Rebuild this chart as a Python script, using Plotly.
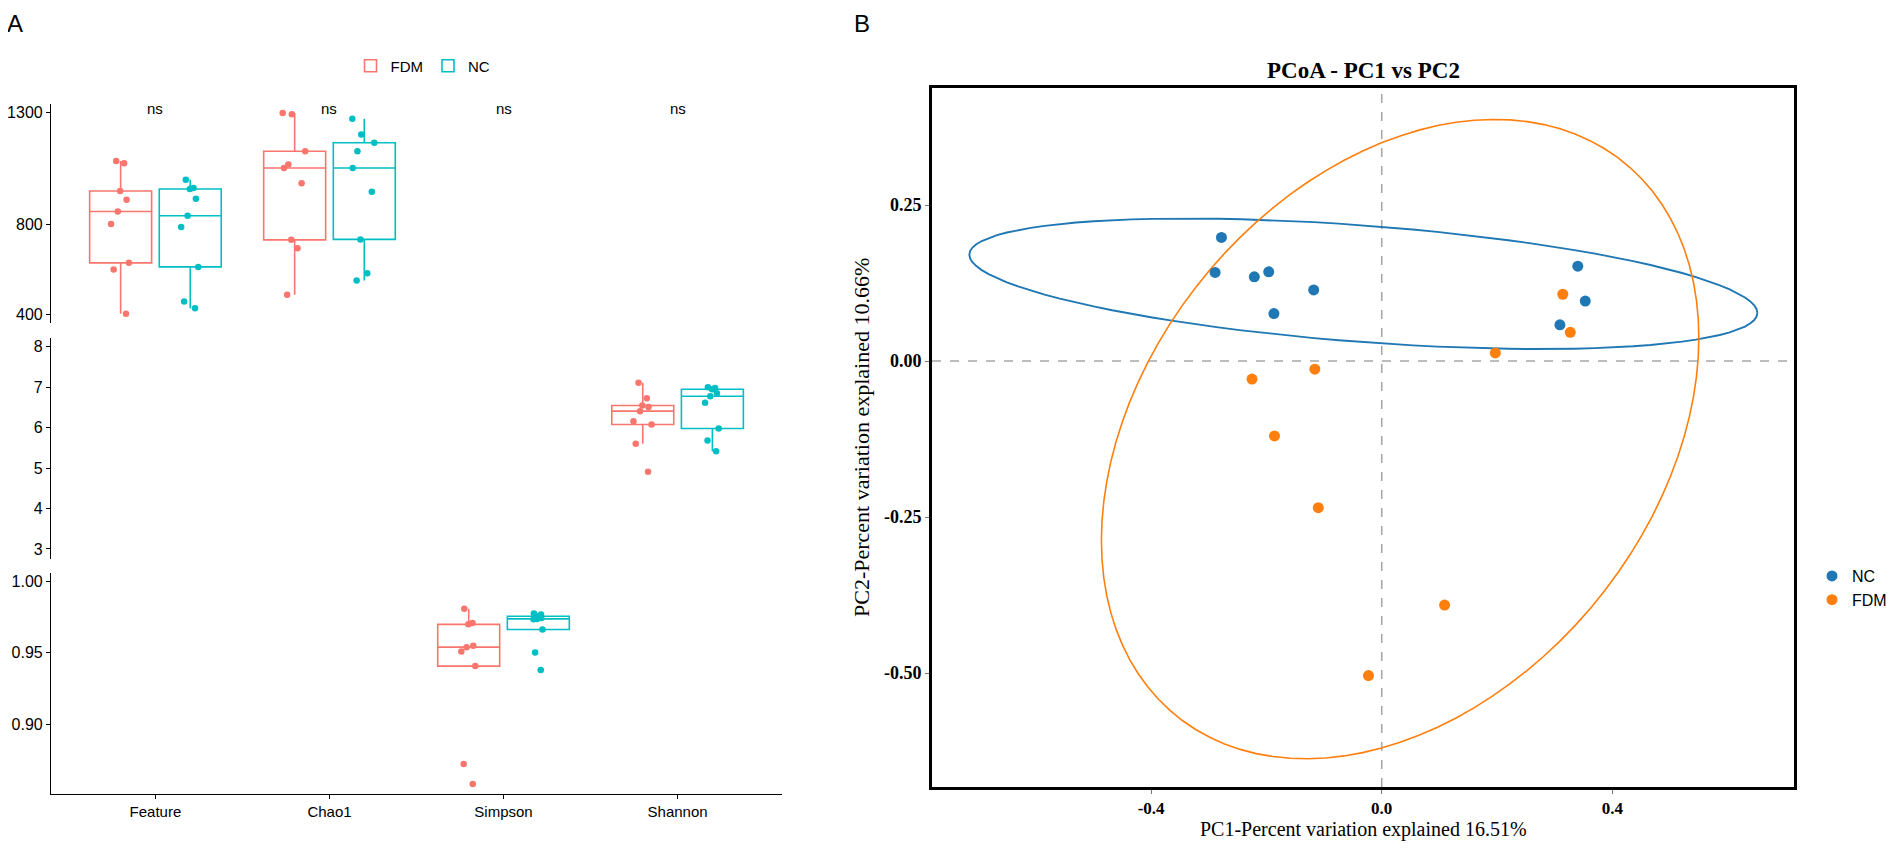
import numpy as np
import plotly.graph_objects as go

# the page body keeps its default 8px margin, so the figure is drawn 8px in
FW, FH = 1886, 835
OFF = 8
SANS = 'Liberation Sans, Arial, sans-serif'
SERIF = 'Liberation Serif, Times New Roman, serif'


def fx(px):
    return (px - OFF) / FW


def fy(py):
    return 1 - (py - OFF) / FH


# ---- panel A: alpha diversity (broken y axis) ----
cats = ['Feature', 'Chao1', 'Simpson', 'Shannon']

feature_fdm = [405, 601, 631, 803, 859, 911, 950, 1073, 1083]
feature_nc = [430, 459, 613, 790, 840, 916, 959, 963, 1000]
chao1_fdm = [489, 696, 733, 984, 1052, 1067, 1126, 1290, 1296]
chao1_nc = [553, 585, 735, 947, 1052, 1126, 1164, 1201, 1270]
simpson_fdm = [0.858, 0.872, 0.9407, 0.951, 0.954, 0.955, 0.970, 0.971, 0.981]
simpson_nc = [0.9379, 0.9502, 0.9664, 0.9735, 0.9738, 0.9745, 0.9757, 0.9769, 0.9776]
shannon_fdm = [4.91, 5.60, 6.08, 6.16, 6.41, 6.51, 6.55, 6.73, 7.11]
shannon_nc = [5.42, 5.68, 5.98, 6.62, 6.78, 6.85, 6.95, 6.98, 7.00]

sig_labels = ['ns', 'ns', 'ns', 'ns']

# ---- panel B: PCoA ----
nc_pc1 = [-0.278, -0.289, -0.221, -0.196, -0.118, -0.187, 0.340, 0.353, 0.309]
nc_pc2 = [0.198, 0.142, 0.135, 0.143, 0.114, 0.076, 0.152, 0.096, 0.058]
fdm_pc1 = [0.314, 0.327, 0.197, -0.116, -0.225, -0.186, -0.110, 0.109, -0.023]
fdm_pc2 = [0.107, 0.046, 0.013, -0.013, -0.029, -0.120, -0.235, -0.391, -0.504]

COL_A = {'FDM': '#F8766D', 'NC': '#00BFC4'}
COL_B = {'NC': '#1F77B4', 'FDM': '#FF7F0E'}


def conf_ellipse(xs, ys, level=0.95, segments=100):
    # normal-theory confidence ellipse (sample covariance, chi-square radius)
    X = np.column_stack([xs, ys])
    center = X.mean(axis=0)
    cov = np.cov(X, rowvar=False)
    radius = np.sqrt(-2 * np.log(1 - level))
    ang = np.linspace(0, 2 * np.pi, segments + 1)
    circle = np.column_stack([np.cos(ang), np.sin(ang)])
    pts = center + radius * circle @ np.linalg.cholesky(cov).T
    return pts[:, 0], pts[:, 1]


fig = go.Figure()

panels = [
    ('y', {'FDM': (['Feature'] * 9 + ['Chao1'] * 9, feature_fdm + chao1_fdm),
           'NC': (['Feature'] * 9 + ['Chao1'] * 9, feature_nc + chao1_nc)}),
    ('y2', {'FDM': (['Shannon'] * 9, shannon_fdm), 'NC': (['Shannon'] * 9, shannon_nc)}),
    ('y3', {'FDM': (['Simpson'] * 9, simpson_fdm), 'NC': (['Simpson'] * 9, simpson_nc)}),
]
for yax, groups in panels:
    for grp in ['FDM', 'NC']:
        xs, ys = groups[grp]
        # box with 1.5*IQR whiskers (outlier markers hidden, drawn by the next trace)
        fig.add_trace(go.Box(
            x=xs, y=ys, name=grp, xaxis='x', yaxis=yax,
            offsetgroup=grp, legendgroup=grp, showlegend=(yax == 'y'), legend='legend',
            boxpoints='outliers', quartilemethod='inclusive',
            whiskerwidth=0, fillcolor='white',
            line=dict(color=COL_A[grp], width=1.6),
            marker=dict(color=COL_A[grp], opacity=0),
        ))
        # jittered sample points
        fig.add_trace(go.Box(
            x=xs, y=ys, name=grp, xaxis='x', yaxis=yax,
            offsetgroup=grp, legendgroup=grp, showlegend=False,
            boxpoints='all', jitter=0.45, pointpos=0, quartilemethod='inclusive',
            fillcolor='rgba(0,0,0,0)', line=dict(color='rgba(0,0,0,0)', width=0),
            marker=dict(color=COL_A[grp], size=6.5),
        ))

# PCoA ellipses and points
for grp, px_, py_ in [('NC', nc_pc1, nc_pc2), ('FDM', fdm_pc1, fdm_pc2)]:
    ex, ey = conf_ellipse(np.array(px_), np.array(py_))
    fig.add_trace(go.Scatter(x=ex, y=ey, mode='lines', xaxis='x2', yaxis='y4',
                             line=dict(color=COL_B[grp], width=1.9 if grp == 'NC' else 1.6),
                             showlegend=False, hoverinfo='skip'))
for grp, px_, py_ in [('NC', nc_pc1, nc_pc2), ('FDM', fdm_pc1, fdm_pc2)]:
    fig.add_trace(go.Scatter(x=px_, y=py_, mode='markers', name=grp, xaxis='x2', yaxis='y4',
                             legend='legend2',
                             marker=dict(color=COL_B[grp], size=11)))

# dashed zero lines
fig.add_shape(type='line', xref='x2', yref='y4 domain', x0=0, x1=0, y0=0, y1=1,
              line=dict(color='#A8A8A8', width=1.6, dash='dash'), layer='below')
fig.add_shape(type='line', xref='x2 domain', yref='y4', x0=0, x1=1, y0=0, y1=0,
              line=dict(color='#A8A8A8', width=1.6, dash='dash'), layer='below')

a_axis = dict(showline=True, linecolor='black', linewidth=1.2, ticks='outside', ticklen=4,
              tickcolor='black', tickwidth=1.2, showgrid=False, zeroline=False,
              tickfont=dict(family=SANS, size=16, color='black'))
b_axis = dict(showline=True, mirror=True, linecolor='black', linewidth=2.6, ticks='outside',
              ticklen=4, tickcolor='#777777', showgrid=False, zeroline=False,
              tickfont=dict(family=SERIF, size=18, color='black', weight='bold'))

fig.update_layout(
    width=FW, height=FH, margin=dict(l=0, r=0, t=0, b=0),
    paper_bgcolor='white', plot_bgcolor='white',
    boxmode='group', boxgap=0.2, boxgroupgap=0.11,
    xaxis=dict(a_axis, domain=[fx(51), fx(782)], anchor='y3', type='category',
               categoryorder='array', categoryarray=cats, range=[-0.6, 3.6],
               tickfont=dict(family=SANS, size=15, color='black')),
    yaxis=dict(a_axis, domain=[fy(323), fy(104)], anchor='x',
               range=[364, 1336], tickvals=[400, 800, 1300]),
    yaxis2=dict(a_axis, domain=[fy(559), fy(338)], anchor='x',
                range=[2.75, 8.22], tickvals=[3, 4, 5, 6, 7, 8]),
    yaxis3=dict(a_axis, domain=[fy(794), fy(573)], anchor='x',
                range=[0.851, 1.006], tickvals=[0.90, 0.95, 1.00],
                ticktext=['0.90', '0.95', '1.00']),
    xaxis2=dict(b_axis, domain=[fx(932), fx(1794)], anchor='y4', range=[-0.78, 0.715],
                tickvals=[-0.4, 0, 0.4], ticktext=['-0.4', '0.0', '0.4'],
                tickfont=dict(family=SERIF, size=17, color='black', weight='bold')),
    yaxis4=dict(b_axis, domain=[fy(787), fy(88)], anchor='x2', range=[-0.6826, 0.4375],
                tickvals=[0.25, 0, -0.25, -0.5], ticktext=['0.25', '0.00', '-0.25', '-0.50']),
    legend=dict(orientation='h', x=fx(423), y=fy(66), xanchor='center', yanchor='middle',
                font=dict(family=SANS, size=15, color='black'), itemwidth=30),
    legend2=dict(x=fx(1812), y=fy(588), xanchor='left', yanchor='middle',
                 font=dict(family=SANS, size=16, color='black'), itemwidth=30),
)

ann = []
for c, s in zip(cats, sig_labels):
    ann.append(dict(x=c, y=1318, xref='x', yref='y', text=s, showarrow=False,
                    xanchor='center', yanchor='middle',
                    font=dict(family=SANS, size=15, color='black')))
ann += [
    dict(x=fx(15), y=1, yanchor='top', text='A', font=dict(family=SANS, size=24, color='black')),
    dict(x=fx(862), y=1, yanchor='top', text='B', font=dict(family=SANS, size=24, color='black')),
    dict(x=fx(1363), y=fy(71), text='<b>PCoA - PC1 vs PC2</b>',
         font=dict(family=SERIF, size=23, color='black')),
    dict(x=fx(1363), y=1 - (843 - OFF) / FH, yanchor='bottom',
         text='PC1-Percent variation explained 16.51%',
         font=dict(family=SERIF, size=20, color='black')),
    dict(x=fx(862), y=fy(438), textangle=-90, text='PC2-Percent variation explained 10.66%',
         font=dict(family=SERIF, size=22, color='black')),
]
for a in ann[4:]:
    a.setdefault('yanchor', 'middle')
    a.update(xref='paper', yref='paper', showarrow=False, xanchor='center')
fig.update_layout(annotations=ann)

fig.write_html("out.html")
